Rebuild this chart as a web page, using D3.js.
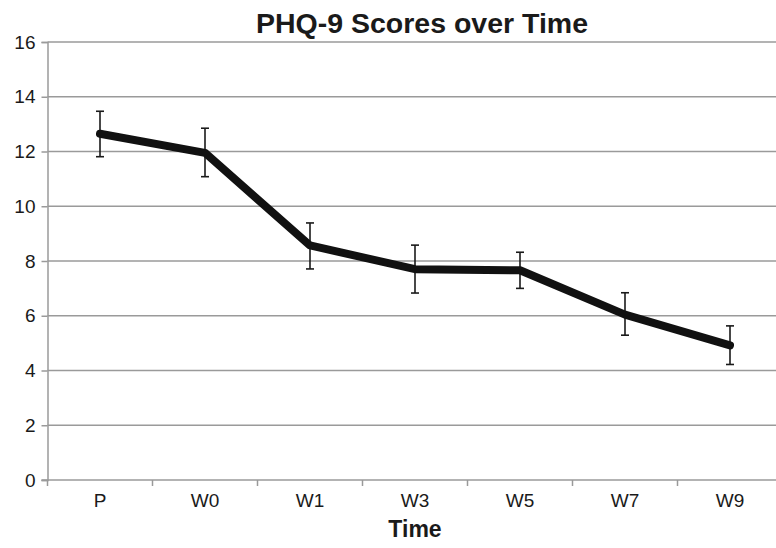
<!DOCTYPE html>
<html>
<head>
<meta charset="utf-8">
<script src="https://cdn.jsdelivr.net/npm/d3@7"></script>
<style>
  body { margin: 0; background: #fff; }
  svg { display: block; font-family: "Liberation Sans", Arial, Helvetica, sans-serif; }
</style>
</head>
<body>
<div id="chart"></div>
<script>
// Data
const categories = ["P", "W0", "W1", "W3", "W5", "W7", "W9"];
const means = [12.65, 11.95, 8.57, 7.70, 7.66, 6.04, 4.92];
const upper = [13.47, 12.85, 9.39, 8.58, 8.32, 6.84, 5.63];
const lower = [11.81, 11.08, 7.71, 6.83, 7.00, 5.29, 4.22];
const yTicks = [0, 2, 4, 6, 8, 10, 12, 14, 16];

const width = 776;
const height = 548;
const margin = { top: 42, right: -6.5, bottom: 68, left: 47.5 };

const svg = d3.select("#chart")
  .append("svg")
  .attr("width", width)
  .attr("height", height);

const x = d3.scaleBand()
  .domain(categories)
  .range([margin.left, width - margin.right]);

const y = d3.scaleLinear()
  .domain([0, 16])
  .range([height - margin.bottom, margin.top]);

// Gridlines
svg.append("g")
  .selectAll("line")
  .data(yTicks.filter(d => d > 0))
  .enter()
  .append("line")
  .attr("x1", margin.left)
  .attr("x2", width)
  .attr("y1", d => y(d))
  .attr("y2", d => y(d))
  .attr("stroke", "#9a9a9a")
  .attr("stroke-width", 1.5);

// Y axis
const yAxis = svg.append("g")
  .attr("transform", `translate(${margin.left},0)`)
  .call(d3.axisLeft(y).tickValues(yTicks).tickSize(6).tickPadding(6));
yAxis.select(".domain").attr("stroke", "#9a9a9a").attr("stroke-width", 1.5);
yAxis.selectAll(".tick line").attr("stroke", "#9a9a9a").attr("stroke-width", 1.5);
yAxis.selectAll(".tick text")
  .attr("font-size", "19px")
  .attr("fill", "#1a1a1a")
  .attr("font-family", "Liberation Sans, Arial, sans-serif");

// X axis
const xAxis = svg.append("g")
  .attr("transform", `translate(0,${y(0)})`)
  .call(d3.axisBottom(x).tickSize(0).tickPadding(14));
xAxis.select(".domain").remove();
xAxis.selectAll(".tick text")
  .attr("font-size", "19px")
  .attr("fill", "#1a1a1a")
  .attr("font-family", "Liberation Sans, Arial, sans-serif");

svg.append("line")
  .attr("x1", margin.left - 6)
  .attr("x2", width)
  .attr("y1", y(0))
  .attr("y2", y(0))
  .attr("stroke", "#9a9a9a")
  .attr("stroke-width", 1.5);

// Category boundary ticks
svg.append("g")
  .selectAll("line")
  .data(categories)
  .enter()
  .append("line")
  .attr("x1", d => x(d))
  .attr("x2", d => x(d))
  .attr("y1", y(0))
  .attr("y2", y(0) + 6)
  .attr("stroke", "#9a9a9a")
  .attr("stroke-width", 1.5);

const cx = (d, i) => x(categories[i]) + x.bandwidth() / 2;

// Error bars
const err = svg.append("g").attr("stroke", "#1a1a1a").attr("stroke-width", 1.6);
err.selectAll(".stem")
  .data(means)
  .enter()
  .append("line")
  .attr("x1", cx).attr("x2", cx)
  .attr("y1", (d, i) => y(upper[i]))
  .attr("y2", (d, i) => y(lower[i]));
err.selectAll(".capTop")
  .data(means)
  .enter()
  .append("line")
  .attr("x1", (d, i) => cx(d, i) - 4).attr("x2", (d, i) => cx(d, i) + 4)
  .attr("y1", (d, i) => y(upper[i])).attr("y2", (d, i) => y(upper[i]));
err.selectAll(".capBot")
  .data(means)
  .enter()
  .append("line")
  .attr("x1", (d, i) => cx(d, i) - 4).attr("x2", (d, i) => cx(d, i) + 4)
  .attr("y1", (d, i) => y(lower[i])).attr("y2", (d, i) => y(lower[i]));

// Mean line
const line = d3.line()
  .x((d, i) => cx(d, i))
  .y(d => y(d));

svg.append("path")
  .datum(means)
  .attr("d", line)
  .attr("fill", "none")
  .attr("stroke", "#111")
  .attr("stroke-width", 8)
  .attr("stroke-linejoin", "round")
  .attr("stroke-linecap", "round");

// Title
svg.append("text")
  .attr("x", 422)
  .attr("y", 33)
  .attr("text-anchor", "middle")
  .attr("font-size", "28.5px")
  .attr("font-weight", "bold")
  .attr("fill", "#1a1a1a")
  .text("PHQ-9 Scores over Time");

// X axis title
svg.append("text")
  .attr("x", x("W3") + x.bandwidth() / 2)
  .attr("y", 537)
  .attr("text-anchor", "middle")
  .attr("font-size", "23px")
  .attr("font-weight", "bold")
  .attr("fill", "#1a1a1a")
  .text("Time");
</script>
</body>
</html>
